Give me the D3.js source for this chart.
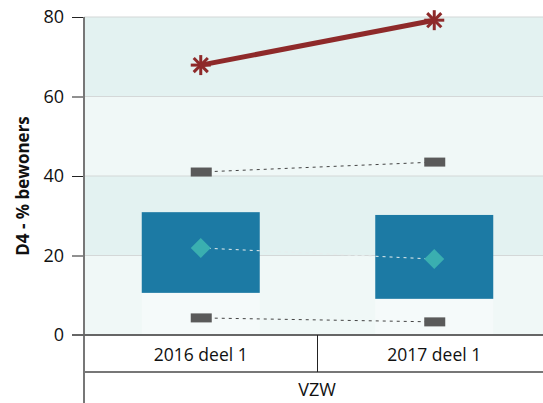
<!DOCTYPE html>
<html><head><meta charset="utf-8">
<script src="https://cdn.jsdelivr.net/npm/d3@7"></script>
<style>body{margin:0;background:#fff}svg{display:block;font-family:"Open Sans",sans-serif}</style>
</head><body><svg id="c" width="543" height="403"></svg>
<script>
const categories = ["2016 deel 1", "2017 deel 1"];
const group = "VZW";
const boxLow = [10.6, 9.1];
const boxHigh = [30.9, 30.2];
const mean = [21.9, 19.1];
const p90 = [41.0, 43.5];
const p10 = [4.3, 3.3];
const own = [67.9, 79.2];
const yTicks = [0, 20, 40, 60, 80];

(function(){
const svg = d3.select("#c");
const pL = 84, pT = 17, pB = 335, pR = 551;
const x = d3.scaleBand().domain(categories).range([pL, pR]);
const y = d3.scaleLinear().domain([0, 80]).range([pB, pT]);
const cx = d => x(d) + x.bandwidth() / 2;

const bands = [[0,20,"#f0f8f7"],[20,40,"#e3f2f1"],[40,60,"#f0f8f7"],[60,80,"#e3f2f1"]];
svg.selectAll("rect.band").data(bands).join("rect")
  .attr("x", pL).attr("width", pR - pL)
  .attr("y", d => y(d[1])).attr("height", d => y(d[0]) - y(d[1]))
  .attr("fill", d => d[2]);
svg.selectAll("line.grid").data(yTicks.slice(1)).join("line")
  .attr("x1", pL).attr("x2", pR).attr("y1", d => y(d)).attr("y2", d => y(d))
  .attr("stroke", "#d4d8d8").attr("stroke-width", 1.2);

const bw = 118;
svg.append("g").selectAll("rect").data(categories).join("rect")
  .attr("x", d => cx(d) - bw/2).attr("width", bw)
  .attr("y", (d,i) => y(boxLow[i])).attr("height", (d,i) => y(0) - y(boxLow[i]))
  .attr("fill", "#ffffff").attr("opacity", 0.35);
svg.append("g").selectAll("rect").data(categories).join("rect")
  .attr("x", d => cx(d) - bw/2).attr("width", bw)
  .attr("y", (d,i) => y(boxHigh[i])).attr("height", (d,i) => y(boxLow[i]) - y(boxHigh[i]))
  .attr("fill", "#1c7aa4");

function dashed(vals, color) {
  svg.append("path")
    .attr("d", d3.line().x((d,i) => cx(categories[i])).y(d => y(d))(vals))
    .attr("fill", "none").attr("stroke", color).attr("stroke-width", 1)
    .attr("stroke-dasharray", "3,4");
}
dashed(p90, "#444");
dashed(p10, "#444");
dashed(mean, "#e8eeee");

[p90, p10].forEach(arr => {
  svg.append("g").selectAll("rect").data(arr).join("rect")
    .attr("x", (d,i) => cx(categories[i]) - 10).attr("width", 21)
    .attr("y", d => y(d) - 4.5).attr("height", 9)
    .attr("fill", "#5a5a5a");
});
svg.append("g").selectAll("path").data(mean).join("path")
  .attr("transform", (d,i) => `translate(${cx(categories[i])},${y(d)})`)
  .attr("d", "M0,-10L10,0L0,10L-10,0Z")
  .attr("fill", "#3aafb0");

svg.append("path")
  .attr("d", d3.line().x((d,i) => cx(categories[i])).y(d => y(d))(own))
  .attr("fill", "none").attr("stroke", "#8e2a2a").attr("stroke-width", 5);
const star = svg.append("g").selectAll("g").data(own).join("g")
  .attr("transform", (d,i) => `translate(${cx(categories[i])},${y(d)})`);
[0, 45, 90, 135].forEach(a => {
  star.append("line").attr("x1", 0).attr("y1", -10).attr("x2", 0).attr("y2", 10)
    .attr("transform", `rotate(${a})`)
    .attr("stroke", "#8e2a2a").attr("stroke-width", 3);
});

const ya = svg.append("g").attr("transform", `translate(${pL},0)`)
  .call(d3.axisLeft(y).tickValues(yTicks).tickSize(12).tickPadding(8));
ya.select(".domain").remove();
ya.selectAll(".tick line").attr("stroke", "#222");
ya.selectAll("text").attr("font-size", 18).attr("fill", "#111").attr("font-family", "Open Sans");
svg.append("line").attr("x1", pL).attr("x2", pL).attr("y1", pT).attr("y2", 403)
  .attr("stroke", "#777").attr("stroke-width", 2);

svg.append("line").attr("x1", pL - 12).attr("x2", pR).attr("y1", pB).attr("y2", pB)
  .attr("stroke", "#666").attr("stroke-width", 2);
svg.append("line").attr("x1", pL).attr("x2", pR).attr("y1", 372).attr("y2", 372)
  .attr("stroke", "#777").attr("stroke-width", 2);
svg.append("line").attr("x1", x(categories[1])).attr("x2", x(categories[1])).attr("y1", pB).attr("y2", 372)
  .attr("stroke", "#222").attr("stroke-width", 1);
svg.append("g").selectAll("text").data(categories).join("text")
  .attr("x", d => cx(d)).attr("y", 361).attr("text-anchor", "middle")
  .attr("font-size", 17.5).attr("fill", "#111").text(d => d);
svg.append("text").attr("x", 317).attr("y", 396).attr("text-anchor", "middle")
  .attr("font-size", 18).attr("fill", "#111").text(group);

svg.append("text").attr("transform", "translate(29,186) rotate(-90)")
  .attr("text-anchor", "middle").attr("font-size", 17).attr("font-weight", "bold")
  .attr("fill", "#111").text("D4 - % bewoners");
})();
</script></body></html>
